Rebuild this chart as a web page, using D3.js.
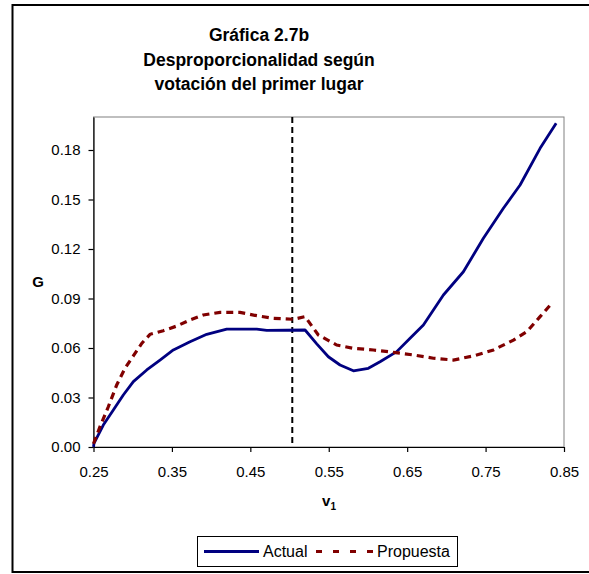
<!DOCTYPE html>
<html>
<head>
<meta charset="utf-8">
<script src="https://cdn.jsdelivr.net/npm/d3@7"></script>
<style>
  body { margin: 0; background: #fff; }
  svg text { font-family: "Liberation Sans", Arial, sans-serif; fill: #000; }
</style>
</head>
<body>
<div id="chart"></div>
<script>
// data
var titleLines = ["Gráfica 2.7b", "Desproporcionalidad según", "votación del primer lugar"]
var seriesNames = ["Actual", "Propuesta"]
var xTicks = [0.25, 0.35, 0.45, 0.55, 0.65, 0.75, 0.85]
var yTicks = [0, 0.03, 0.06, 0.09, 0.12, 0.15, 0.18]
var cutLine = 0.5035

var actualX = [0.25, 0.2506, 0.2625, 0.2753, 0.288, 0.3008, 0.3179, 0.3348, 0.3518, 0.3731, 0.3944, 0.4199,
               0.4582, 0.4709, 0.5198, 0.5347, 0.5495, 0.5644, 0.5814, 0.6005, 0.6154, 0.6367, 0.6537,
               0.6707, 0.6962, 0.7217, 0.7472, 0.7727, 0.794, 0.8195, 0.84]
var actualY = [0.0, 0.0022, 0.0133, 0.0224, 0.0315, 0.0396, 0.0467, 0.0527, 0.0588, 0.0638, 0.0683, 0.0715,
               0.0715, 0.0707, 0.0709, 0.0625, 0.0547, 0.0497, 0.0462, 0.0477, 0.0517, 0.0578, 0.0659,
               0.0739, 0.0921, 0.1062, 0.1265, 0.1447, 0.1588, 0.181, 0.1962]

var propX = [0.25, 0.2583, 0.2689, 0.2796, 0.2902, 0.3008, 0.3115, 0.3221, 0.339, 0.3561, 0.3731, 0.39,
             0.4114, 0.4369, 0.4582, 0.4793, 0.5048, 0.5198, 0.5367, 0.5602, 0.5814, 0.6069, 0.6324,
             0.6579, 0.6834, 0.7089, 0.7344, 0.76, 0.7855, 0.8026, 0.8195, 0.8344]
var propY = [0.002, 0.0123, 0.0244, 0.0376, 0.0477, 0.0552, 0.0628, 0.0683, 0.0705, 0.0733, 0.077, 0.08,
             0.0816, 0.0816, 0.0796, 0.078, 0.0774, 0.079, 0.0679, 0.0618, 0.0598, 0.0588, 0.0574,
             0.0558, 0.0538, 0.0527, 0.0552, 0.0588, 0.0648, 0.0699, 0.079, 0.0871]

var colors = ["#000080", "#800000"]

var W = 589, H = 574
var plot = {left: 93.5, right: 564, top: 117, bottom: 447}

var svg = d3.select("#chart")
    .append("svg")
      .attr("width", W)
      .attr("height", H)

// outer frame
svg.append("rect")
    .attr("x", 12.5).attr("y", 5)
    .attr("width", 600).attr("height", 567)
    .attr("fill", "none")
    .attr("stroke", "#000")
    .attr("stroke-width", 2)

// title
svg.selectAll(".title")
    .data(titleLines)
    .enter()
    .append("text")
      .attr("class", "title")
      .attr("x", 259)
      .attr("y", function(d, i) { return 41 + i * 24.5 })
      .attr("text-anchor", "middle")
      .style("font-size", "17.5px")
      .style("font-weight", "bold")
      .text(function(d) { return d })

var x = d3.scaleLinear().domain([0.25, 0.85]).range([plot.left, plot.right])
var y = d3.scaleLinear().domain([0, 0.2]).range([plot.bottom, plot.top])

// plot area border (grey top/right)
svg.append("rect")
    .attr("x", plot.left).attr("y", plot.top)
    .attr("width", plot.right - plot.left)
    .attr("height", plot.bottom - plot.top)
    .attr("fill", "none")
    .attr("stroke", "#808080")
    .attr("stroke-width", 1)

// axes
var xAxis = svg.append("g")
    .attr("transform", "translate(0," + plot.bottom + ")")
    .call(d3.axisBottom(x).tickValues(xTicks).tickFormat(d3.format(".2f")).tickSize(5).tickSizeOuter(0))
var yAxis = svg.append("g")
    .attr("transform", "translate(" + plot.left + ",0)")
    .call(d3.axisLeft(y).tickValues(yTicks).tickFormat(d3.format(".2f")).tickSize(5).tickSizeOuter(0))

svg.selectAll(".domain, .tick line").attr("stroke", "#000").attr("stroke-width", 1.2)
xAxis.selectAll("text")
    .attr("y", 19.5)
    .style("font-size", "15px")
    .style("font-family", "'Liberation Sans', Arial, sans-serif")
yAxis.selectAll("text")
    .attr("x", -13)
    .style("font-size", "15px")
    .style("font-family", "'Liberation Sans', Arial, sans-serif")

// axis titles
svg.append("text")
    .attr("x", 38).attr("y", 287)
    .attr("text-anchor", "middle")
    .style("font-size", "15px")
    .style("font-weight", "bold")
    .text("G")

var xt = svg.append("text")
    .attr("x", 329).attr("y", 506)
    .attr("text-anchor", "middle")
    .style("font-size", "15px")
    .style("font-weight", "bold")
xt.append("tspan").text("v")
xt.append("tspan").attr("dy", 4).style("font-size", "10px").text("1")

// vertical dashed line
svg.append("line")
    .attr("x1", x(cutLine)).attr("x2", x(cutLine))
    .attr("y1", plot.top).attr("y2", plot.bottom)
    .attr("stroke", "#000")
    .attr("stroke-width", 2)
    .attr("stroke-dasharray", "6,4")

var line = d3.line()
    .x(function(d) { return x(d[0]) })
    .y(function(d) { return y(d[1]) })

var actual = d3.zip(actualX, actualY)
var prop = d3.zip(propX, propY)

svg.append("path")
    .datum(actual)
    .attr("d", line)
    .attr("fill", "none")
    .attr("stroke", colors[0])
    .attr("stroke-width", 2.8)
    .attr("stroke-linejoin", "round")

svg.append("path")
    .datum(prop)
    .attr("d", line)
    .attr("fill", "none")
    .attr("stroke", colors[1])
    .attr("stroke-width", 3.2)
    .attr("stroke-dasharray", "7,5")

// legend
var lg = svg.append("g")
lg.append("rect")
    .attr("x", 197.5).attr("y", 536.5)
    .attr("width", 260).attr("height", 30)
    .attr("fill", "#fff")
    .attr("stroke", "#000")
    .attr("stroke-width", 1)

lg.append("line")
    .attr("x1", 204).attr("x2", 259).attr("y1", 551.5).attr("y2", 551.5)
    .attr("stroke", colors[0]).attr("stroke-width", 2.8)
lg.append("text")
    .attr("x", 263).attr("y", 557)
    .style("font-size", "16px")
    .text(seriesNames[0])

lg.append("line")
    .attr("x1", 316).attr("x2", 374).attr("y1", 551.5).attr("y2", 551.5)
    .attr("stroke", colors[1]).attr("stroke-width", 3.2)
    .attr("stroke-dasharray", "6,11")
lg.append("text")
    .attr("x", 377).attr("y", 557)
    .style("font-size", "16px")
    .text(seriesNames[1])
</script>
</body>
</html>
